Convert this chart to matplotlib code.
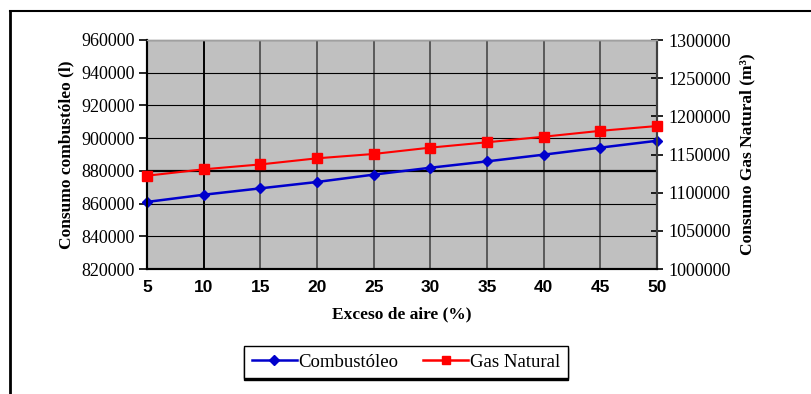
import numpy as np
import matplotlib.pyplot as plt
from matplotlib.lines import Line2D
from matplotlib.ticker import FormatStrFormatter

# Exceso de aire (%)
exceso = [5, 10, 15, 20, 25, 30, 35, 40, 45, 50]

# Consumo combustóleo (l)
combustoleo = [861000, 865400, 869300, 873200, 877700,
               881900, 885800, 889900, 894200, 898400]

# Consumo gas natural (m3)
gas_natural = [1122200, 1130600, 1137000, 1145000, 1150700,
               1159000, 1166000, 1173300, 1181000, 1187300]

serif = "Liberation Serif"
sans = "Liberation Sans"


def main():
    fig = plt.figure(figsize=(8.11, 3.94), dpi=100)

    # outer chart frame
    fig.add_artist(Line2D([9.5 / 811, 9.5 / 811], [0, 1 - 11 / 394],
                          transform=fig.transFigure, color="black", lw=2))
    fig.add_artist(Line2D([9.5 / 811, 1], [1 - 11 / 394, 1 - 11 / 394],
                          transform=fig.transFigure, color="black", lw=1.5))

    ax = fig.add_axes([147 / 811, 1 - 269 / 394, 510 / 811, 229 / 394])
    ax.set_facecolor("#c0c0c0")

    ax.set_xlim(5, 50)
    ax.set_ylim(820000, 960000)
    ax.set_xticks(exceso)
    ax.set_yticks(np.arange(820000, 960001, 20000))

    # grid lines
    for v in exceso[1:-1]:
        if v == 10:
            ax.axvline(v, color="black", lw=1.4, zorder=1)
        else:
            ax.axvline(v, color="#5a5a5a", lw=1.4, zorder=1)
    for v in np.arange(840000, 960001, 20000):
        if v == 880000:
            ax.axhline(v, color="black", lw=1.6, zorder=1)
        else:
            ax.axhline(v, color="black", lw=0.8, zorder=1)

    ax.plot(exceso, combustoleo, color="#0000cc", lw=1.8, marker="D",
            markersize=5, zorder=3, clip_on=False)

    ax2 = ax.twinx()
    ax2.set_ylim(1000000, 1300000)
    ax2.set_yticks(np.arange(1000000, 1300001, 50000))
    ax2.yaxis.set_major_formatter(FormatStrFormatter("%d"))
    ax2.plot(exceso, gas_natural, color="#ff0000", lw=1.5, marker="s",
             markersize=7, zorder=3, clip_on=False)

    for a in (ax, ax2):
        a.spines["top"].set_color("#a0a0a0")
        a.spines["top"].set_linewidth(1)
        a.spines["left"].set_linewidth(1.5)
        a.spines["bottom"].set_linewidth(1.5)
        a.spines["right"].set_color("#404040")
        a.spines["right"].set_linewidth(1.5)

    ax.tick_params(axis="x", length=0, pad=8)
    ax.tick_params(axis="y", direction="out", length=6, width=1.2, pad=3)
    ax2.tick_params(axis="y", direction="inout", length=8, width=1.2, pad=4)

    for lab in ax.get_xticklabels():
        lab.set_fontfamily(sans)
        lab.set_fontweight("bold")
        lab.set_fontsize(12.5)
    for lab in ax.get_yticklabels() + ax2.get_yticklabels():
        lab.set_fontfamily(serif)
        lab.set_fontsize(13)

    ax.set_xlabel("Exceso de aire (%)", fontfamily=serif, fontweight="bold",
                  fontsize=12.5, labelpad=8)
    ax.set_ylabel("Consumo combustóleo (l)", fontfamily=serif,
                  fontweight="bold", fontsize=12.5, labelpad=5)
    ax2.set_ylabel("Consumo Gas Natural (m³)", fontfamily=serif,
                   fontweight="bold", fontsize=12.5, labelpad=6)

    h1 = Line2D([], [], color="#0000cc", lw=1.8, marker="D", markersize=5)
    h2 = Line2D([], [], color="#ff0000", lw=1.8, marker="s", markersize=6)
    leg = fig.legend([h1, h2], ["Combustóleo", "Gas Natural"],
                     loc="center", bbox_to_anchor=(406 / 811, 1 - 362 / 394),
                     ncol=2, fancybox=False, edgecolor="black",
                     prop={"family": serif, "size": 13.5},
                     handlelength=2.4, handletextpad=0.1, columnspacing=1.3,
                     borderpad=0.4, borderaxespad=0,
                     shadow={"color": "black", "alpha": 1, "ox": 0, "oy": -1.5})
    leg.get_frame().set_linewidth(1)

    fig.savefig("out.png", dpi=100)


if __name__ == "__main__":
    main()
